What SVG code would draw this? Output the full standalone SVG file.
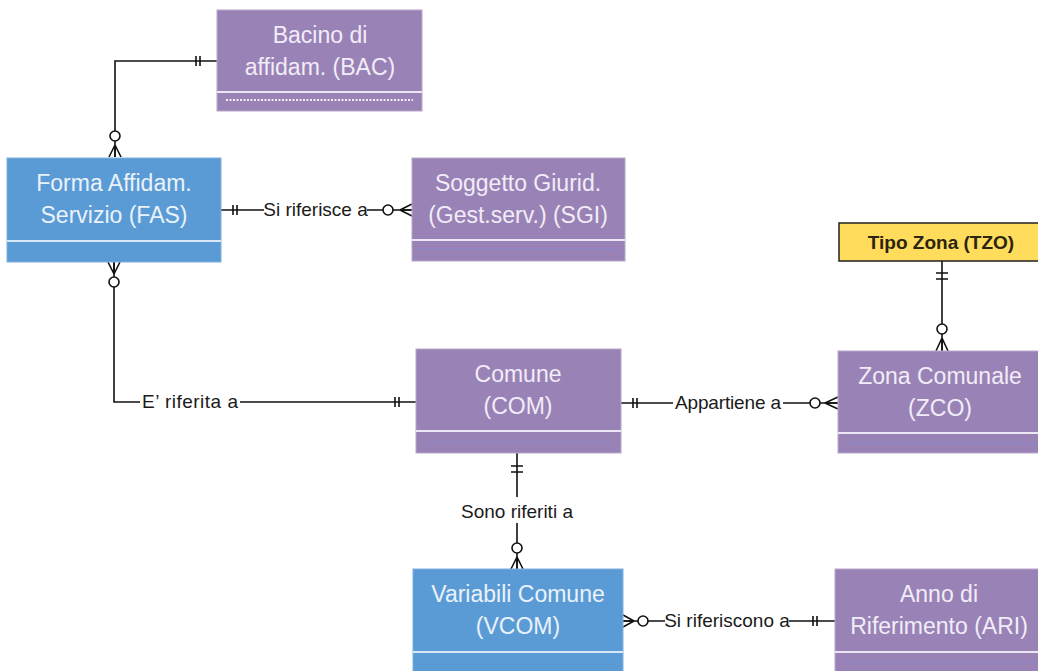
<svg xmlns="http://www.w3.org/2000/svg" width="1038" height="671" viewBox="0 0 1038 671">
<style>
.bg{fill:#ffffff}
.pur{fill:#9983B6;stroke:#B7A8CC;stroke-width:1}
.blu{fill:#5B9BD5;stroke:#7FB0DE;stroke-width:1}
.yel{fill:#FFDC5C;stroke:#222;stroke-width:1.5}
.sepP{stroke:#EDE6F5;stroke-width:2}
.sepB{stroke:#D9E8F7;stroke-width:2}
.inner{stroke:#8A87CC;stroke-width:1.5;opacity:0.7}
.dots{stroke:#F2ECF8;stroke-width:2;stroke-dasharray:2 1.5}
.et{font-family:"Liberation Sans",Arial,sans-serif;font-size:23px;fill:#F2ECF8;text-anchor:middle}
.etb{font-family:"Liberation Sans",Arial,sans-serif;font-size:23px;fill:#EAF2FB;text-anchor:middle}
.ty{font-family:"Liberation Sans",Arial,sans-serif;font-size:19px;font-weight:bold;fill:#2a2410;text-anchor:middle}
.lbl{font-family:"Liberation Sans",Arial,sans-serif;font-size:19px;fill:#1a1a1a;text-anchor:middle}
.ln{fill:none;stroke:#111;stroke-width:1.6}
.circ{fill:#ffffff;stroke:#111;stroke-width:1.6}
</style>
<rect class="bg" x="0" y="0" width="1038" height="671"/>

<g id="connectors">
  <!-- BAC - FAS -->
  <path class="ln" d="M217,61 H115 V157"/>
  <path class="ln" d="M196,56 V66 M200,56 V66"/>
  <path class="ln" d="M115,145 L109,157 M115,145 L115,157 M115,145 L121,157"/>
  <circle class="circ" cx="115" cy="136" r="5"/>

  <!-- FAS - SGI -->
  <path class="ln" d="M221,210 H264 M367,210 H412"/>
  <path class="ln" d="M233,205 V215 M237,205 V215"/>
  <path class="ln" d="M400,210 L412,204 M400,210 L412,210 M400,210 L412,216"/>
  <circle class="circ" cx="388" cy="210" r="5"/>
  <text class="lbl" x="315.5" y="216">Si riferisce a</text>

  <!-- FAS - COM -->
  <path class="ln" d="M114,262 V402 H140 M240,402 H416"/>
  <path class="ln" d="M108,262 L114,274 M114,262 L114,274 M120,262 L114,274"/>
  <circle class="circ" cx="114" cy="282" r="5"/>
  <path class="ln" d="M395,397 V407 M399,397 V407"/>
  <text class="lbl" x="190" y="408" textLength="96" lengthAdjust="spacing">E’ riferita a</text>

  <!-- TZO - ZCO -->
  <path class="ln" d="M942,261 V351"/>
  <path class="ln" d="M936,273 H948 M936,279 H948"/>
  <path class="ln" d="M942,338 L936,351 M942,338 L942,351 M942,338 L948,351"/>
  <circle class="circ" cx="942" cy="329" r="5"/>

  <!-- COM - ZCO -->
  <path class="ln" d="M621,403 H673 M783,403 H838"/>
  <path class="ln" d="M633,398 V408 M637,398 V408"/>
  <path class="ln" d="M825,403 L838,397 M825,403 L838,403 M825,403 L838,409"/>
  <circle class="circ" cx="815" cy="403" r="5"/>
  <text class="lbl" x="728" y="409" textLength="106" lengthAdjust="spacing">Appartiene a</text>

  <!-- COM - VCOM -->
  <path class="ln" d="M517,453 V497 M517,523 V569"/>
  <path class="ln" d="M511,466 H523 M511,472 H523"/>
  <path class="ln" d="M517,557 L511,569 M517,557 L517,569 M517,557 L523,569"/>
  <circle class="circ" cx="517" cy="548" r="5"/>
  <text class="lbl" x="517" y="518">Sono riferiti a</text>

  <!-- VCOM - ARI -->
  <path class="ln" d="M623,621 H665 M789,621 H835"/>
  <path class="ln" d="M623,615 L634,621 M623,621 L634,621 M623,627 L634,621"/>
  <circle class="circ" cx="643" cy="621" r="5"/>
  <path class="ln" d="M813,616 V626 M817,616 V626"/>
  <text class="lbl" x="727" y="627">Si riferiscono a</text>
</g>

<g id="BAC">
  <rect class="pur" x="217" y="10" width="205" height="101"/>
  <line class="sepP" x1="217" y1="92" x2="422" y2="92"/>
  <line class="dots" x1="226" y1="100" x2="413" y2="100"/>
  <text class="et" x="320" y="43">Bacino di</text>
  <text class="et" x="320" y="75">affidam. (BAC)</text>
</g>

<g id="FAS">
  <rect class="blu" x="7" y="158" width="214" height="104"/>
  <line class="sepB" x1="7" y1="241" x2="221" y2="241"/>
  <text class="etb" x="114" y="191">Forma Affidam.</text>
  <text class="etb" x="114" y="223">Servizio (FAS)</text>
</g>

<g id="SGI">
  <rect class="pur" x="412" y="158" width="213" height="103"/>
  <line class="sepP" x1="412" y1="240" x2="625" y2="240"/>
  <line class="inner" x1="420" y1="249" x2="616" y2="249"/>
  <text class="et" x="518" y="191">Soggetto Giurid.</text>
  <text class="et" x="518" y="223">(Gest.serv.) (SGI)</text>
</g>

<g id="TZO">
  <rect class="yel" x="839" y="223" width="210" height="38"/>
  <text class="ty" x="941" y="249">Tipo Zona (TZO)</text>
</g>

<g id="COM">
  <rect class="pur" x="416" y="349" width="205" height="104"/>
  <line class="sepP" x1="416" y1="431" x2="621" y2="431"/>
  <line class="inner" x1="424" y1="442" x2="612" y2="442"/>
  <text class="et" x="518" y="382">Comune</text>
  <text class="et" x="518" y="414">(COM)</text>
</g>

<g id="ZCO">
  <rect class="pur" x="838" y="351" width="210" height="102"/>
  <line class="sepP" x1="838" y1="433" x2="1048" y2="433"/>
  <line class="inner" x1="846" y1="443" x2="1038" y2="443"/>
  <text class="et" x="940" y="384">Zona Comunale</text>
  <text class="et" x="940" y="416">(ZCO)</text>
</g>

<g id="VCOM">
  <rect class="blu" x="413" y="569" width="210" height="110"/>
  <line class="sepB" x1="413" y1="652" x2="623" y2="652"/>
  <text class="etb" x="518" y="602">Variabili Comune</text>
  <text class="etb" x="518" y="634">(VCOM)</text>
</g>

<g id="ARI">
  <rect class="pur" x="835" y="569" width="212" height="110"/>
  <line class="sepP" x1="835" y1="652" x2="1047" y2="652"/>
  <line class="inner" x1="843" y1="662" x2="1038" y2="662"/>
  <text class="et" x="939" y="602">Anno di</text>
  <text class="et" x="939" y="634">Riferimento (ARI)</text>
</g>
</svg>
